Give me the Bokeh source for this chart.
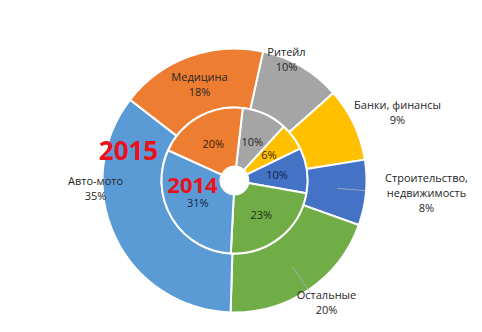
import numpy as np
from bokeh.plotting import figure
from bokeh.models import ColumnDataSource, Range1d
from bokeh.core.properties import value
from bokeh.embed import file_html
from bokeh.resources import INLINE

# ---------------- data ----------------
categories = ["Ритейл", "Банки, финансы", "Строительство,\nнедвижимость", "Остальные", "Авто-мото", "Медицина"]
share_2015 = [10, 9, 8, 20, 35, 18]
share_2014 = [10, 6, 10, 23, 31, 20]
colors = ["#A5A5A5", "#FFC000", "#4472C4", "#70AD47", "#5B9BD5", "#ED7D31"]
text_dark = ["#262626", "#3a2a00", "#10204a", "#1a2e10", "#10244a", "#3a1a08"]
year_labels = ["2015", "2014"]

# ---------------- layout ----------------
W, H = 482, 332
CX, CY = 234, 180          # centre in pixels from top-left
R_HOLE, R_MID, R_OUT = 14, 73, 132
START_OUT, START_IN = 12.5, 6.5   # degrees clockwise from 12 o'clock
# outer label offsets (dx, dy) from centre in px, y up
outer_label_off = [(52, 122), (163, 69), (192, -12), (92, -121), (-139, -7), (-35, 97)]
inner_label_r = 43
leaders = [(2, 94.4, 103, 131), (3, 146, 104, 137)]   # (index, angle, r0, r1)


def wedges(shares, start):
    vals = np.array(shares, dtype=float)
    frac = vals / vals.sum() * 360.0
    ends = start + np.cumsum(frac)
    starts = ends - frac
    s_math = np.radians(90 - ends)
    e_math = np.radians(90 - starts)
    mid = (starts + ends) / 2
    return s_math, e_math, mid


p = figure(width=W, height=H, x_range=Range1d(-CX, W - CX), y_range=Range1d(-(H - CY), CY),
           output_backend="svg", toolbar_location=None, min_border=0)
p.axis.visible = False
p.grid.visible = False
p.outline_line_color = None
p.background_fill_color = "white"

so, eo, mo = wedges(share_2015, START_OUT)
si, ei, mi = wedges(share_2014, START_IN)

src_out = ColumnDataSource(dict(s=so, e=eo, c=colors))
src_in = ColumnDataSource(dict(s=si, e=ei, c=colors))

p.annular_wedge(x=0, y=0, inner_radius=R_MID, outer_radius=R_OUT, start_angle="s", end_angle="e",
                direction="anticlock", fill_color="c", line_color="white", line_width=2, source=src_out)
p.annular_wedge(x=0, y=0, inner_radius=R_HOLE, outer_radius=R_MID, start_angle="s", end_angle="e",
                direction="anticlock", fill_color="c", line_color="white", line_width=2, source=src_in)

# leader lines
for idx, ang, r0, r1 in leaders:
    a = np.radians(90 - ang)
    p.segment(x0=[r0 * np.cos(a)], y0=[r0 * np.sin(a)], x1=[r1 * np.cos(a)], y1=[r1 * np.sin(a)],
              line_color="#A8B4C8", line_width=1, line_alpha=0.8)

# outer labels
ox = [o[0] for o in outer_label_off]
oy = [o[1] for o in outer_label_off]
otext = [f"{c}\n{v}%" for c, v in zip(categories, share_2015)]
p.text(x=ox, y=oy, text=otext, text_align="center", text_baseline="middle",
       text_font=value("Open Sans"), text_font_size="11px", text_color="#262626",
       text_line_height=1.0)

# inner labels
ia = np.radians(90 - mi)
ix = inner_label_r * np.cos(ia)
iy = inner_label_r * np.sin(ia)
itext = [f"{v}%" for v in share_2014]
p.text(x=list(ix), y=list(iy), text=itext, text_align="center", text_baseline="middle",
       text_font=value("Open Sans"), text_font_size="11px", text_color=text_dark)

# year labels
p.text(x=[-106], y=[30], text=[year_labels[0]], text_align="center", text_baseline="middle",
       text_font=value("Open Sans"), text_font_size="26px", text_font_style="bold", text_color="#E8111C")
p.text(x=[-42], y=[-5], text=[year_labels[1]], text_align="center", text_baseline="middle",
       text_font=value("Open Sans"), text_font_size="22px", text_font_style="bold", text_color="#E8111C")

open("out.html", "w").write(file_html(p, INLINE))
